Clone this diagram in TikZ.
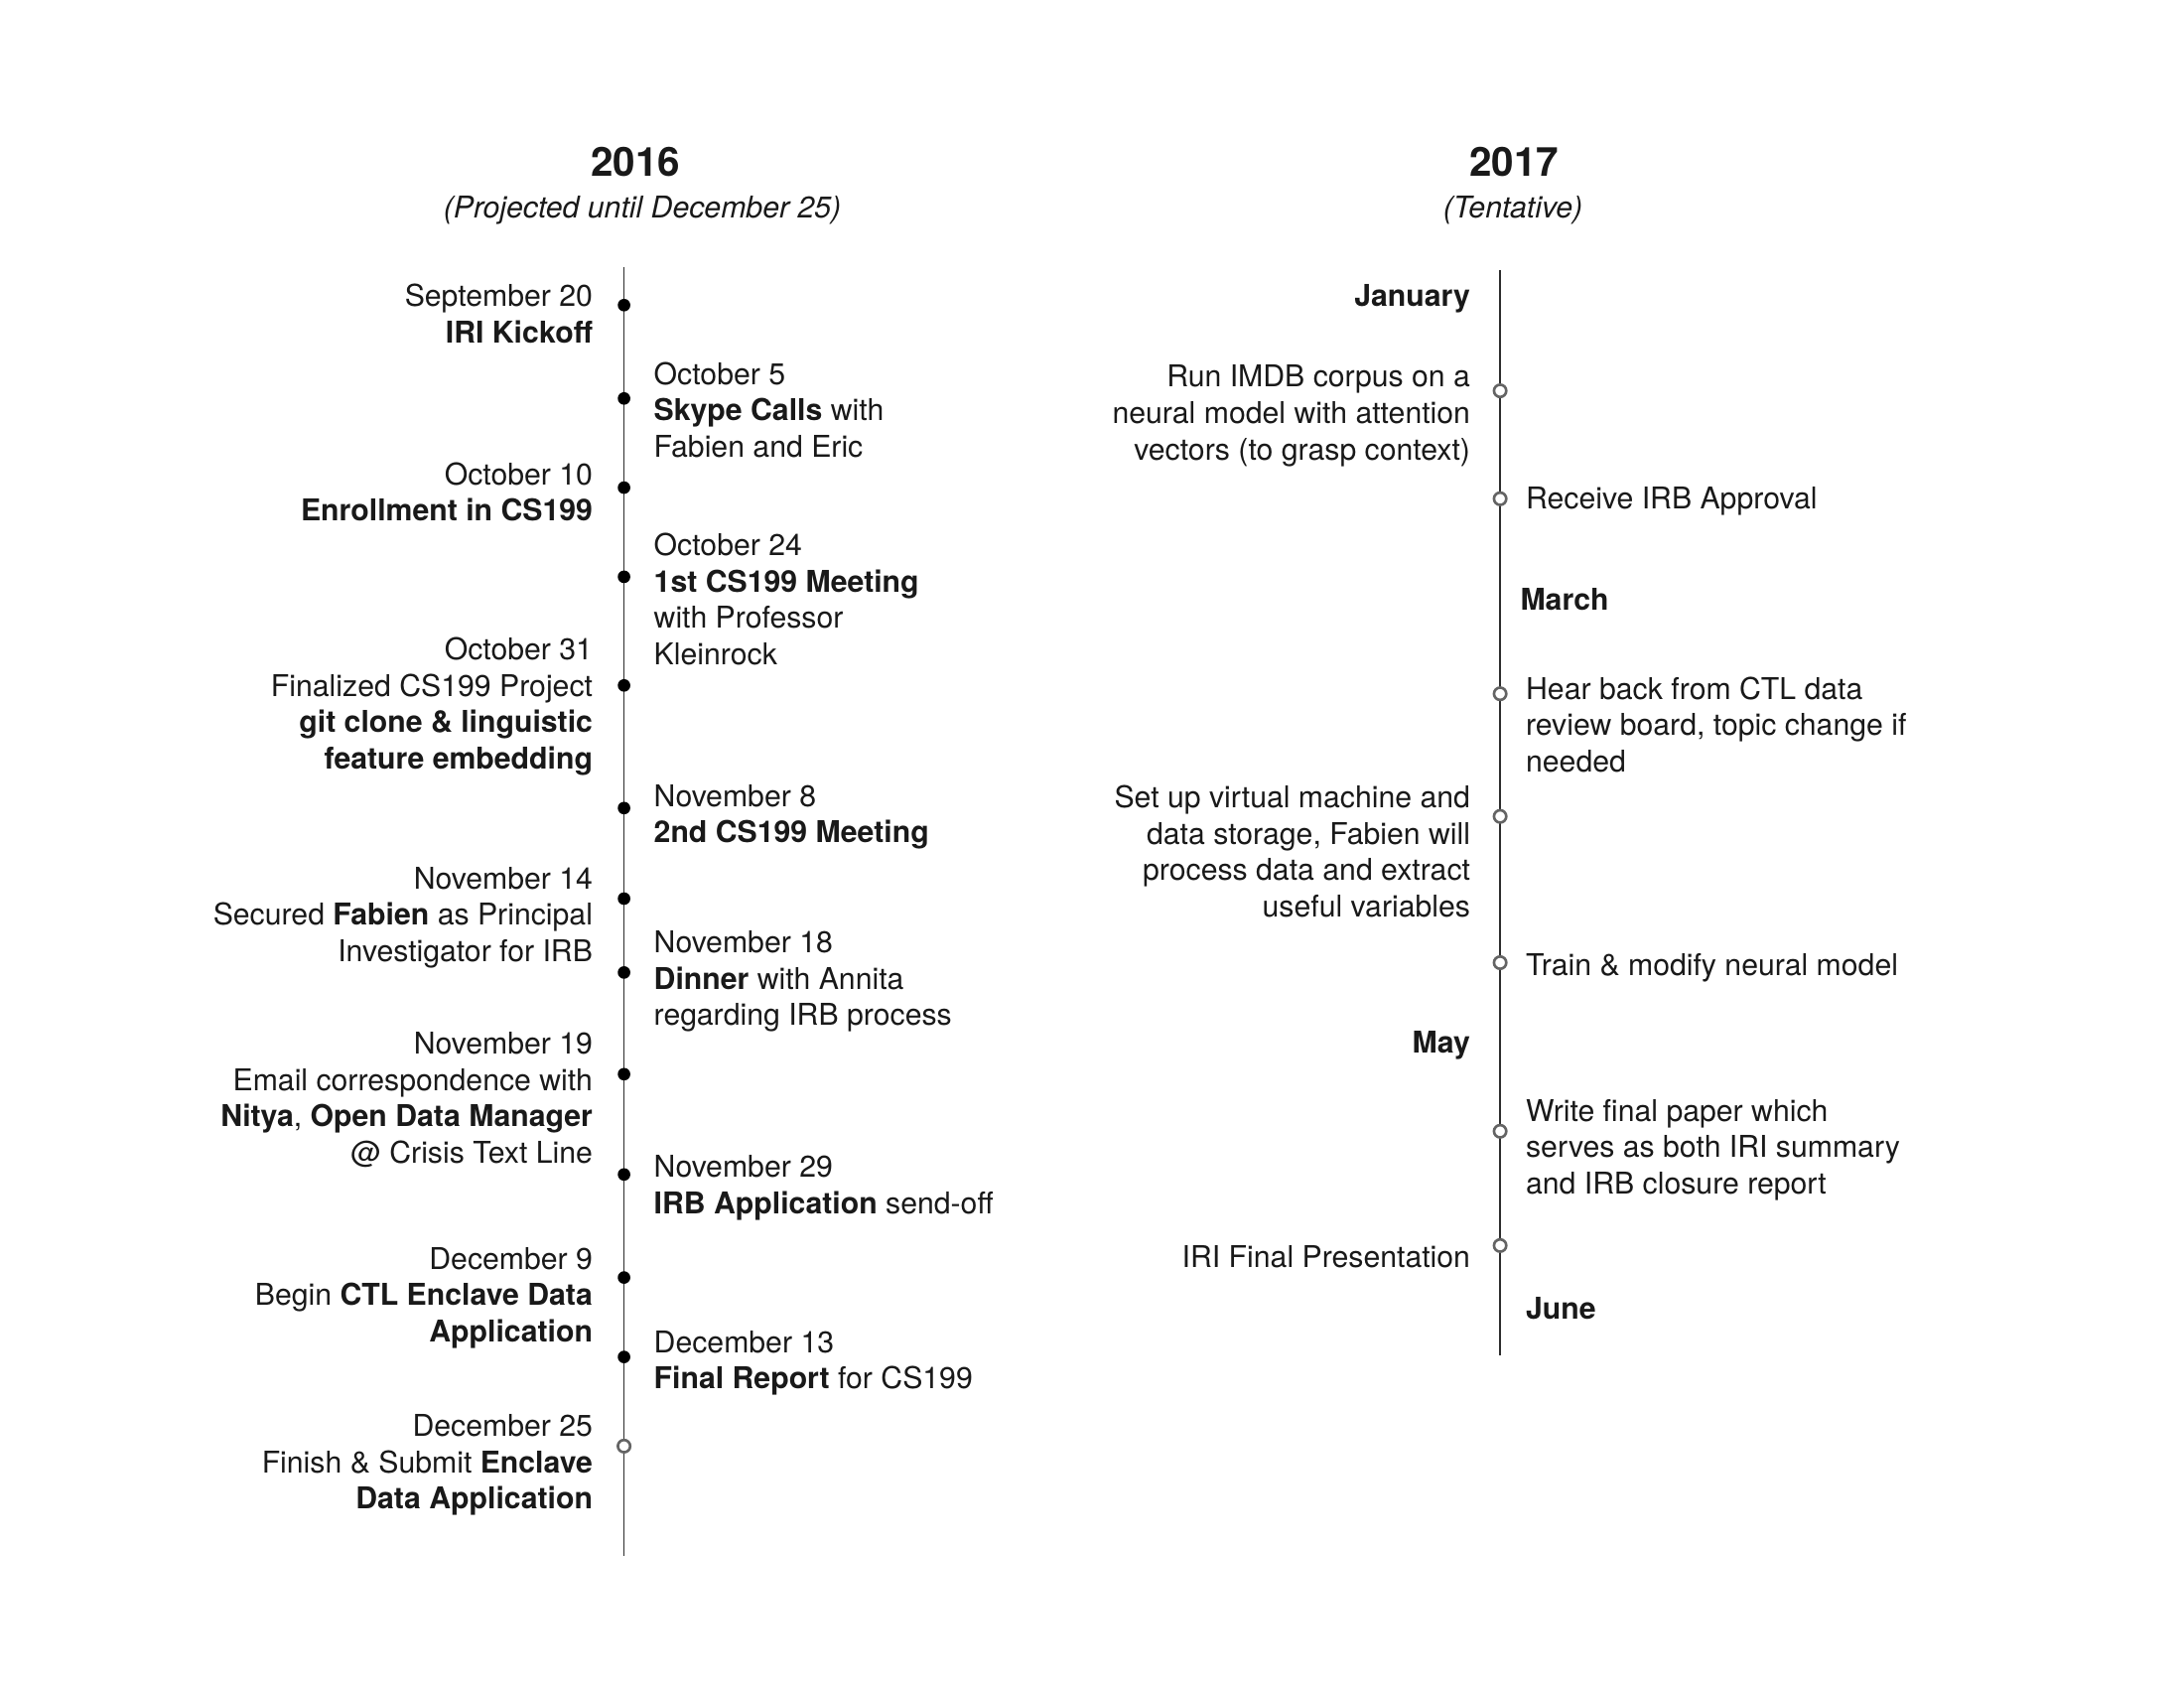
\documentclass[tikz,border=0pt]{standalone}
\usepackage{fontspec}
\setmainfont{TeX Gyre Heros}
\usepackage{tikz}
\usetikzlibrary{positioning}
\definecolor{axisgray}{RGB}{45,45,45}
\definecolor{ringgray}{RGB}{100,100,100}

\begin{document}
\begin{tikzpicture}[
  every node/.style={font=\fontsize{8.6}{10.4}\selectfont, inner sep=0pt, text=black!90},
  lefttxt/.style={anchor=base east, align=right},
  righttxt/.style={anchor=base west, align=left},
  yearhead/.style={anchor=base, font=\fontsize{11.5}{14}\selectfont\bfseries},
  subhead/.style={anchor=base, font=\fontsize{8.6}{10.4}\selectfont\itshape},
  month/.style={font=\fontsize{8.6}{10.4}\selectfont\bfseries},
  axisline/.style={line width=0.45pt, axisgray},
  done/.style={circle, fill=black, minimum size=0.127cm, inner sep=0pt},
  plan/.style={circle, draw=ringgray, fill=white, line width=0.75pt,
               minimum size=0.124cm, inner sep=0pt},
]
\useasboundingbox (0,0) rectangle (22,17);

%% ── Headers ──────────────────────────────────────────────────────────────────
\node[yearhead] (h16) at (6.40,15.22) {2016};
\node[subhead]  (s16) at (6.47,14.80) {(Projected until December 25)};
\node[yearhead] (h17) at (15.25,15.22) {2017};
\node[subhead]  (s17) at (15.24,14.80) {(Tentative)};

%% ── Axes ─────────────────────────────────────────────────────────────────────
\coordinate (top16) at (6.286,14.306);
\coordinate (bot16) at (6.286,1.327);
\coordinate (top17) at (15.111,14.278);
\coordinate (bot17) at (15.111,3.348);
\draw[axisline] (top16) -- (bot16);
\draw[axisline] (top17) -- (bot17);

%% ── 2016 milestones ──────────────────────────────────────────────────────────
\node[done] (sep20) at (6.286,13.927) {};
\node[done] (oct5)  at (6.286,12.987) {};
\node[done] (oct10) at (6.286,12.089) {};
\node[done] (oct24) at (6.286,11.191) {};
\node[done] (oct31) at (6.286,10.097) {};
\node[done] (nov8)  at (6.286,8.862) {};
\node[done] (nov14) at (6.286,7.950) {};
\node[done] (nov18) at (6.286,7.206) {};
\node[done] (nov19) at (6.286,6.182) {};
\node[done] (nov29) at (6.286,5.172) {};
\node[done] (dec9)  at (6.286,4.134) {};
\node[done] (dec13) at (6.286,3.334) {};
\node[plan] (dec25) at (6.286,2.436) {};

% left side (base = last line)
\node[lefttxt] (sep20txt) at (5.977,13.548) {September 20\\\textbf{IRI Kickoff}};
\node[lefttxt] (oct10txt) at (5.977,11.752) {October 10\\\textbf{Enrollment in CS199}};
\node[lefttxt] (oct31txt) at (5.977,9.255) {October 31\\Finalized CS199 Project\\\textbf{git clone \& linguistic}\\\textbf{feature embedding}};
\node[lefttxt] (nov14txt) at (5.977,7.318) {November 14\\Secured \textbf{Fabien} as Principal\\Investigator for IRB};
\node[lefttxt] (nov19txt) at (5.977,5.285) {November 19\\Email correspondence with\\\textbf{Nitya}, \textbf{Open Data Manager}\\@ Crisis Text Line};
\node[lefttxt] (dec9txt)  at (5.977,3.488) {December 9\\Begin \textbf{CTL Enclave Data}\\\textbf{Application}};
\node[lefttxt] (dec25txt) at (5.977,1.804) {December 25\\Finish \& Submit \textbf{Enclave}\\\textbf{Data Application}};

% right side
\node[righttxt] (oct5txt)  at (6.580,12.398) {October 5\\\textbf{Skype Calls} with\\Fabien and Eric};
\node[righttxt] (oct24txt) at (6.580,10.308) {October 24\\\textbf{1st CS199 Meeting}\\with Professor\\Kleinrock};
\node[righttxt] (nov8txt)  at (6.580,8.511) {November 8\\\textbf{2nd CS199 Meeting}};
\node[righttxt] (nov18txt) at (6.580,6.673) {November 18\\\textbf{Dinner} with Annita\\regarding IRB process};
\node[righttxt] (nov29txt) at (6.580,4.779) {November 29\\\textbf{IRB Application} send-off};
\node[righttxt] (dec13txt) at (6.580,3.011) {December 13\\\textbf{Final Report} for CS199};

%% ── 2017 plan ────────────────────────────────────────────────────────────────
\node[plan] (imdb)    at (15.111,13.064) {};
\node[plan] (irb)     at (15.111,11.977) {};
\node[plan] (ctl)     at (15.111,10.013) {};
\node[plan] (vm)      at (15.111,8.778) {};
\node[plan] (train)   at (15.111,7.305) {};
\node[plan] (paper)   at (15.111,5.607) {};
\node[plan] (present) at (15.111,4.456) {};

% left side
\node[lefttxt, month] (jan) at (14.817,13.913) {January};
\node[lefttxt] (imdbtxt)    at (14.817,12.369) {Run IMDB corpus on a\\neural model with attention\\vectors (to grasp context)};
\node[lefttxt] (vmtxt)      at (14.817,7.768) {Set up virtual machine and\\data storage, Fabien will\\process data and extract\\useful variables};
\node[lefttxt, month] (may) at (14.817,6.393) {May};
\node[lefttxt] (presenttxt) at (14.817,4.232) {IRI Final Presentation};

% right side
\node[righttxt] (irbtxt)      at (15.364,11.879) {Receive IRB Approval};
\node[righttxt, month] (mar)  at (15.308,10.855) {March};
\node[righttxt] (ctltxt)      at (15.364,9.227) {Hear back from CTL data\\review board, topic change if\\needed};
\node[righttxt] (traintxt)    at (15.364,7.178) {Train \& modify neural model};
\node[righttxt] (papertxt)    at (15.364,4.975) {Write final paper which\\serves as both IRI summary\\and IRB closure report};
\node[righttxt, month] (jun)  at (15.364,3.713) {June};

\end{tikzpicture}
\end{document}
